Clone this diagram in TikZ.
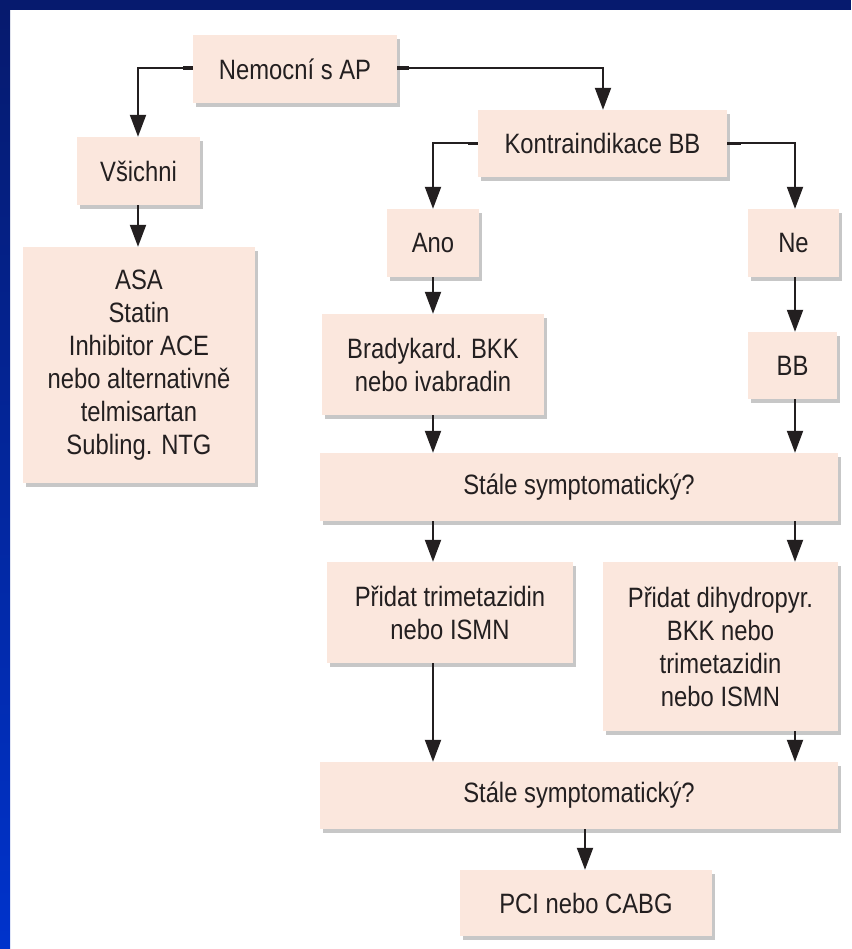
\documentclass[tikz,border=0pt]{standalone}
\usepackage{fontspec}
\setmainfont{Liberation Sans}[FakeStretch=0.85]
\usetikzlibrary{arrows.meta,shadows}
\definecolor{boxfill}{HTML}{FBE7DD}
\definecolor{navy}{HTML}{061A6E}
\definecolor{brightblue}{HTML}{0033CC}
\definecolor{ink}{HTML}{231F20}
\begin{document}
\begin{tikzpicture}[x=1pt,y=-1pt,
  box/.style={fill=boxfill, draw=none, inner sep=0pt, align=center, text=ink,
    font=\fontsize{28}{33}\selectfont,
    drop shadow={shadow xshift=3pt, shadow yshift=-4pt, fill=black, opacity=0.22}},
  link/.style={draw=ink, line width=2pt},
  arr/.style={link, -{Triangle[width=16pt,length=22pt]}},
  stub/.style={draw=ink, line width=3.5pt}
]
\useasboundingbox (0,0) rectangle (851,949);
% background
\fill[white] (0,0) rectangle (851,949);
\fill[navy] (0,0) rectangle (851,10);
\shade[top color=navy, bottom color=brightblue] (0,10) rectangle (10,949);
\fill[navy] (0,0) rectangle (10,10);

% nodes
\node[box, minimum width=204pt, minimum height=68pt] (nem) at (295,69) {Nemocní s AP};
\node[box, minimum width=123pt, minimum height=68pt] (vsi) at (138.5,171) {Všichni};
\node[box, minimum width=232pt, minimum height=236pt] (asa) at (139,365) {ASA\\Statin\\Inhibitor ACE\\nebo alternativně\\telmisartan\\Subling. NTG};
\node[box, minimum width=249pt, minimum height=67pt] (kon) at (602.5,143.5) {Kontraindikace BB};
\node[box, minimum width=92pt, minimum height=68pt] (ano) at (433,243) {Ano};
\node[box, minimum width=91pt, minimum height=68pt] (ne) at (793.5,243) {Ne};
\node[box, minimum width=222pt, minimum height=101pt] (bra) at (433,364.5) {Bradykard. BKK\\nebo ivabradin};
\node[box, minimum width=89pt, minimum height=67pt] (bb) at (792.5,365.5) {BB};
\node[box, minimum width=518pt, minimum height=68pt] (st1) at (579,487) {Stále symptomatický?};
\node[box, minimum width=246pt, minimum height=101pt] (pr1) at (450,612.5) {Přidat trimetazidin\\nebo ISMN};
\node[box, minimum width=235pt, minimum height=169pt] (pr2) at (720.5,646.5) {Přidat dihydropyr.\\BKK nebo\\trimetazidin\\nebo ISMN};
\node[box, minimum width=518pt, minimum height=67pt] (st2) at (579,795.5) {Stále symptomatický?};
\node[box, minimum width=252pt, minimum height=66pt] (pci) at (586,903) {PCI nebo CABG};

% column coordinates
\coordinate (xL) at (138,0);
\coordinate (xA) at (433,0);
\coordinate (xB) at (795,0);
\coordinate (xK) at (603,0);
\coordinate (xC) at (585,0);

% connectors
\draw[arr] ([yshift=1pt]nem.west) -| (vsi.north -| xL);
\draw[stub] ([yshift=1pt]nem.west) -- ++(-10,0);
\draw[arr] ([yshift=1pt]nem.east) -| (kon.north -| xK);
\draw[stub] ([yshift=1pt]nem.east) -- ++(12,0);
\draw[arr] (vsi.south -| xL) -- (asa.north -| xL);
\draw[arr] (kon.west) -| (ano.north -| xA);
\draw[stub] (kon.west) -- ++(-10,0);
\draw[arr] (kon.east) -| (ne.north -| xB);
\draw[stub] (kon.east) -- ++(14,0);
\draw[arr] (ano.south -| xA) -- (bra.north -| xA);
\draw[arr] (ne.south -| xB) -- (bb.north -| xB);
\draw[arr] (bra.south -| xA) -- (st1.north -| xA);
\draw[arr] (bb.south -| xB) -- (st1.north -| xB);
\draw[arr] (st1.south -| xA) -- (pr1.north -| xA);
\draw[arr] (st1.south -| xB) -- (pr2.north -| xB);
\draw[arr] (pr1.south -| xA) -- (st2.north -| xA);
\draw[arr] (pr2.south -| xB) -- (st2.north -| xB);
\draw[arr] (st2.south -| xC) -- (pci.north -| xC);
\end{tikzpicture}
\end{document}
